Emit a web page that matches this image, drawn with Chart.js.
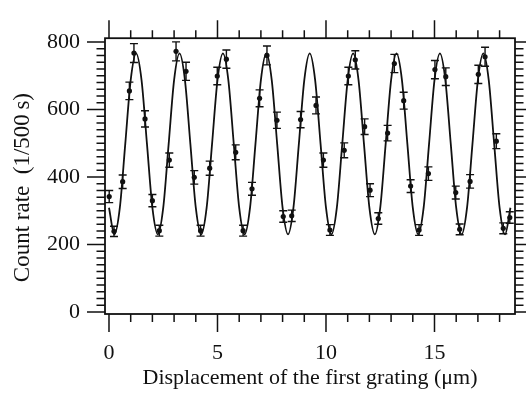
<!DOCTYPE html>
<html>
<head>
<meta charset="utf-8">
<script src="https://cdn.jsdelivr.net/npm/chart.js@4.4.1/dist/chart.umd.min.js"></script>
<style>
  html, body { margin: 0; padding: 0; background: #fff; }
  canvas { display: block; }
</style>
</head>
<body>
<canvas id="chart" width="526" height="394"></canvas>
<script>
  const displacement = [0.01, 0.23, 0.63, 0.94, 1.15, 1.66, 2.00, 2.32, 2.78, 3.09,
    3.55, 3.93, 4.22, 4.64, 4.99, 5.41, 5.84, 6.18, 6.59, 6.94,
    7.28, 7.74, 8.03, 8.42, 8.83, 9.54, 9.88, 10.18, 10.84, 11.03,
    11.35, 11.78, 12.03, 12.41, 12.84, 13.15, 13.58, 13.90, 14.29, 14.72,
    15.02, 15.52, 15.98, 16.16, 16.64, 17.02, 17.33, 17.85, 18.17, 18.47];
  const countRate = [342, 239, 386, 655, 767, 572, 330, 241, 450, 772,
    713, 399, 241, 426, 699, 749, 473, 241, 365, 633,
    760, 568, 283, 285, 570, 612, 450, 243, 479, 699,
    747, 549, 361, 277, 530, 736, 626, 373, 243, 410,
    718, 697, 354, 245, 387, 704, 756, 506, 248, 280];
  const countError = [18, 15, 20, 26, 28, 24, 18, 16, 21, 28,
    27, 20, 16, 21, 26, 27, 22, 16, 19, 25,
    28, 24, 17, 17, 24, 25, 21, 16, 22, 26,
    27, 23, 19, 17, 23, 27, 25, 19, 16, 20,
    27, 26, 19, 16, 20, 27, 28, 22, 16, 17];

  // Fitted curve, read at peaks, troughs and the points between them
  const fitX = [0, 0.25, 0.5, 0.75, 1, 1.25, 1.5, 1.75,
    2, 2.25, 2.5, 2.75, 3, 3.25, 3.5, 3.75,
    4, 4.25, 4.5, 4.75, 5, 5.25, 5.5, 5.75,
    6, 6.25, 6.5, 6.75, 7, 7.25, 7.5, 7.75,
    8, 8.25, 8.5, 8.75, 9, 9.25, 9.5, 9.75,
    10, 10.25, 10.5, 10.75, 11, 11.25, 11.5, 11.75,
    12, 12.25, 12.5, 12.75, 13, 13.25, 13.5, 13.75,
    14, 14.25, 14.5, 14.75, 15, 15.25, 15.5, 15.75,
    16, 16.25, 16.5, 16.75, 17, 17.25, 17.5, 17.75,
    18, 18.25, 18.5];
  const fitY = [309, 230, 309, 498, 687, 766, 687, 498,
    309, 230, 309, 498, 687, 766, 687, 498,
    309, 230, 309, 498, 687, 766, 687, 498,
    309, 230, 309, 498, 687, 766, 687, 498,
    309, 230, 309, 498, 687, 766, 687, 498,
    309, 230, 309, 498, 687, 766, 687, 498,
    309, 230, 309, 498, 687, 766, 687, 498,
    309, 230, 309, 498, 687, 766, 687, 498,
    309, 230, 309, 498, 687, 766, 687, 498,
    309, 230, 309];

  const xTicks = [0, 5, 10, 15];
  const yTicks = [0, 200, 400, 600, 800];

  const serif = "'Liberation Serif', 'Times New Roman', serif";
  Chart.defaults.font.family = serif;
  Chart.defaults.color = "#111";

  // error bars, frame and the outside tick marks
  const frameAndTicks = {
    id: "frameAndTicks",
    afterDatasetsDraw(chart) {
      const { ctx, chartArea: a, scales: { x, y } } = chart;
      ctx.save();
      ctx.strokeStyle = "#111";

      ctx.lineWidth = 1.4;
      displacement.forEach((d, i) => {
        const px = x.getPixelForValue(d);
        const top = y.getPixelForValue(countRate[i] + countError[i]);
        const bot = y.getPixelForValue(countRate[i] - countError[i]);
        ctx.beginPath();
        ctx.moveTo(px, top); ctx.lineTo(px, bot);
        ctx.moveTo(px - 4, top); ctx.lineTo(px + 4, top);
        ctx.moveTo(px - 4, bot); ctx.lineTo(px + 4, bot);
        ctx.stroke();
      });

      ctx.lineWidth = 1.8;
      ctx.strokeRect(a.left, a.top, a.right - a.left, a.bottom - a.top);

      ctx.lineWidth = 1.5;
      ctx.beginPath();
      for (let v = 0; v <= 18; v++) {
        const px = x.getPixelForValue(v);
        const len = v % 5 === 0 ? 18 : 8;
        ctx.moveTo(px, a.bottom); ctx.lineTo(px, a.bottom + len);
        ctx.moveTo(px, a.top); ctx.lineTo(px, a.top - len);
      }
      for (let v = 0; v <= 800; v += 20) {
        const py = y.getPixelForValue(v);
        const len = v % 200 === 0 ? 18 : 8.5;
        ctx.moveTo(a.left, py); ctx.lineTo(a.left - len, py);
        ctx.moveTo(a.right, py); ctx.lineTo(a.right + len, py);
      }
      ctx.stroke();
      ctx.restore();
    }
  };

  const labelFont = { family: serif, size: 22 };

  new Chart(document.getElementById("chart"), {
    type: "scatter",
    data: {
      datasets: [
        {
          data: fitX.map((v, i) => ({ x: v, y: fitY[i] })),
          showLine: true,
          cubicInterpolationMode: "monotone",
          borderColor: "#111",
          borderWidth: 1.8,
          pointRadius: 0,
          order: 2
        },
        {
          data: displacement.map((v, i) => ({ x: v, y: countRate[i] })),
          pointRadius: 2.6,
          backgroundColor: "#111",
          borderColor: "#111",
          borderWidth: 0,
          order: 1
        }
      ]
    },
    options: {
      responsive: false,
      animation: false,
      layout: { padding: { top: 25, right: 11, left: 0, bottom: 0 } },
      plugins: { legend: { display: false }, tooltip: { enabled: false } },
      scales: {
        x: {
          type: "linear",
          min: -0.184,
          max: 18.71,
          afterFit: (s) => { s.height = 80; },
          afterBuildTicks: (s) => { s.ticks = xTicks.map((v) => ({ value: v })); },
          grid: { display: false, drawTicks: false },
          border: { display: false },
          ticks: { padding: 26, font: labelFont, maxRotation: 0, autoSkip: false },
          title: {
            display: true,
            text: "Displacement of the first grating (\u03bcm)",
            font: labelFont,
            padding: { top: 0, bottom: 3 }
          }
        },
        y: {
          type: "linear",
          min: -5.7,
          max: 811,
          afterFit: (s) => { s.width = 105; },
          afterBuildTicks: (s) => { s.ticks = yTicks.map((v) => ({ value: v })); },
          grid: { display: false, drawTicks: false },
          border: { display: false },
          ticks: { padding: 25, font: labelFont, autoSkip: false },
          title: {
            display: true,
            // trailing en spaces push the title a little below the centre, as in the original
            text: "Count rate  (1/500\u2009s)\u2002\u2002",
            font: { family: serif, size: 23 },
            padding: { top: 9, bottom: 0 }
          }
        }
      }
    },
    plugins: [frameAndTicks]
  });
</script>
</body>
</html>
